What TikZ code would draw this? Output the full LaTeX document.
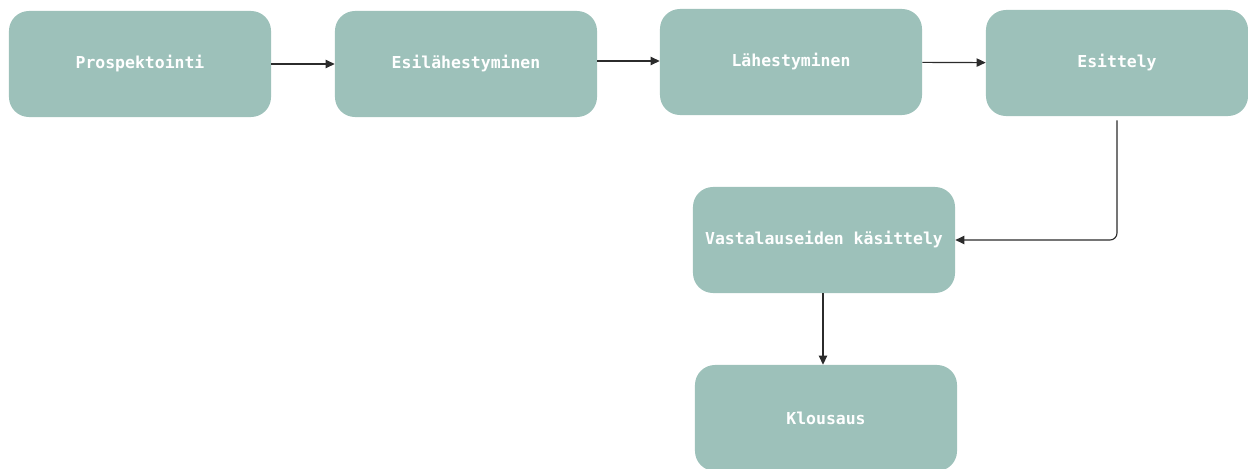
\documentclass[tikz,border=0pt]{standalone}
\usepackage{fontspec}
\setmonofont{DejaVu Sans Mono}
\usetikzlibrary{arrows.meta,positioning,calc}
\definecolor{boxfill}{HTML}{9DC1BA}
\definecolor{pilcol}{HTML}{2B2B2B}
\tikzset{
    %Define standard arrow tip
    >={Triangle[length=6.5pt,width=6pt]},
    %Define style for boxes
    phase/.style={
           rectangle,
           rounded corners=0.5cm,
           fill=boxfill,
           minimum width=6.55cm,
           minimum height=2.65cm,
           text=white,
           font=\ttfamily\bfseries\fontsize{11.7}{14}\selectfont,
           text centered},
    % Define arrow style
    pil/.style={
           ->,
           draw=pilcol,
           line width=0.8pt}
}
\begin{document}
\begin{tikzpicture}[x=0.025cm,y=-0.025cm]
    \useasboundingbox (0,0) rectangle (1248,468);
	% top row
    \node[phase] (prosp) at (140,64) {Prospektointi};
    \node[phase] (esilah) at (466,64) {Esilähestyminen};
    \node[phase] (lah) at (791,62) {Lähestyminen};
    \node[phase] (esitt) at (1117,63) {Esittely};

    % lower column
    \node[phase] (vasta) at (824,240) {Vastalauseiden käsittely};
    \node[phase] (klous) at (826,418) {Klousaus};

    % edges
    \draw[pil] (prosp) -- (esilah);
    \draw[pil] (esilah.east |- 0,61) -- (lah.west |- 0,61);
    \draw[pil] (lah) -- (esitt);
    \draw[pil, rounded corners=5pt] ($(esitt.south)+(0,4)$) |- (vasta.east);
    \draw[pil] (vasta.south -| 823,0) -- (klous.north -| 823,0);
\end{tikzpicture}
\end{document}
